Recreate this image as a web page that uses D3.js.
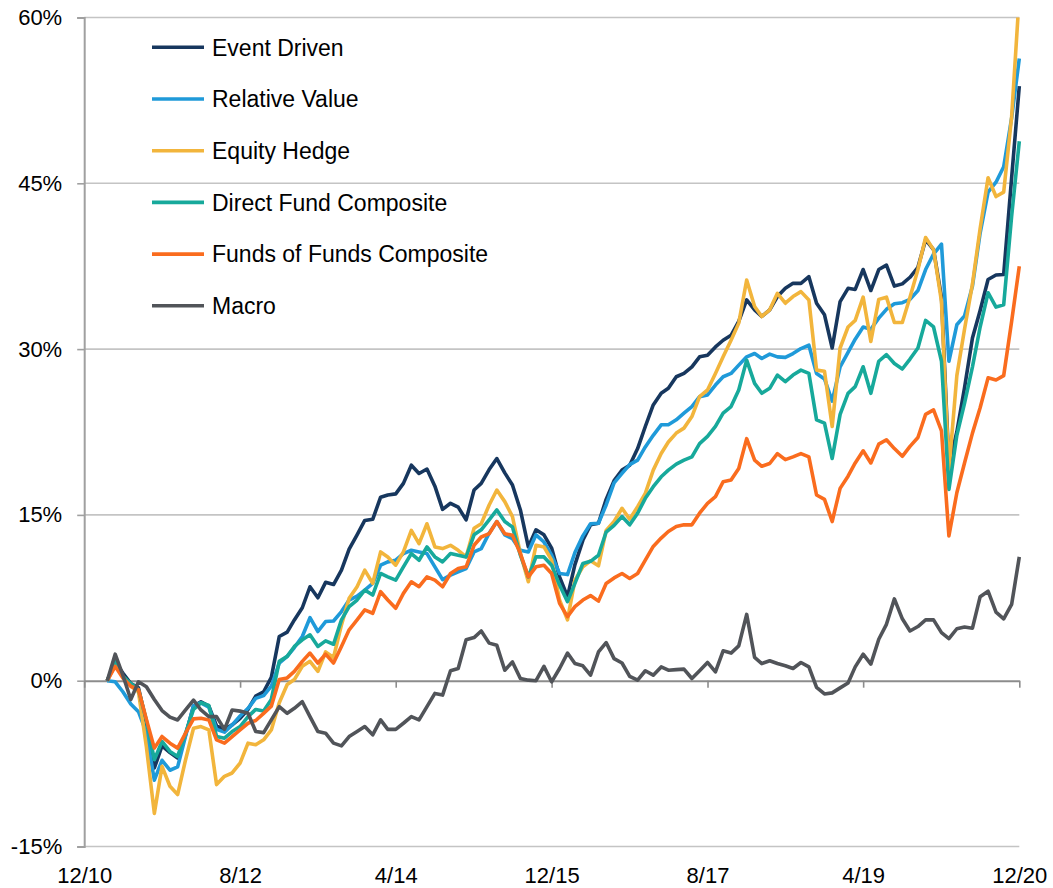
<!DOCTYPE html>
<html><head><meta charset="utf-8">
<script src="https://cdn.jsdelivr.net/npm/d3@7"></script>
<style>
html,body{margin:0;padding:0;background:#fff;}
svg text{font-family:"Liberation Sans",Arial,sans-serif;fill:#000;}
</style></head>
<body><svg id="c" width="1053" height="888"></svg>
<script>
// Monthly observations, 3/2011 .. 12/2020 (cumulative return, %)
const startMonth = new Date(2011, 2, 1);
const endMonth = new Date(2020, 11, 1);
const months = d3.timeMonth.range(startMonth, d3.timeMonth.offset(endMonth, 1));

const eventDriven = [
0,1.7,0.7,-0.25,-0.65,-3.8,-7.9,-5.9,-6.5,-7.0,
-4.9,-2.3,-1.9,-2.3,-4.1,-4.4,-4.0,-3.4,-2.6,-1.4,
-1.0,0.3,4.0,4.4,5.5,6.6,8.5,7.5,8.9,8.7,
10.0,11.9,13.2,14.5,14.6,16.6,16.8,16.9,17.85,19.5,
18.75,19.15,17.6,15.5,16.05,15.7,14.55,17.25,17.85,19.1,
20.1,18.8,17.7,15.45,12.1,13.65,13.2,12.0,9.4,7.6,
10.5,12.7,14.1,14.25,16.4,18.1,19.05,19.5,21.0,23.0,
24.95,26.0,26.45,27.5,27.8,28.4,29.3,29.45,30.2,30.8,
31.25,32.5,34.45,33.55,32.95,33.55,34.75,35.5,35.95,35.95,
36.55,34.15,33.1,30.1,34.3,35.5,35.4,37.2,35.3,37.2,
37.6,35.7,35.9,36.5,37.4,39.9,39.0,34.7,19.5,22.5,
26.5,31.0,33.5,36.3,36.7,36.75,45.5,53.8];

const relativeValue = [
0,-0.1,-1.0,-2.1,-2.8,-4.7,-9.0,-7.2,-8.1,-7.8,
-5.0,-2.25,-2.0,-2.4,-4.4,-4.65,-4.0,-3.2,-2.5,-1.6,
-1.35,-0.5,1.6,2.2,3.0,4.0,5.7,4.45,5.35,5.4,
6.25,7.3,7.65,8.2,8.8,10.45,10.75,10.9,11.5,11.8,
11.65,11.5,10.3,9.15,9.55,9.85,10.15,11.65,11.95,13.35,
14.4,13.2,12.85,11.8,11.65,13.2,12.55,11.35,9.7,9.6,
11.6,13.1,14.2,14.25,15.9,17.9,18.75,19.55,19.95,21.15,
22.2,23.15,23.15,23.6,24.2,24.8,25.7,25.85,26.75,27.5,
27.8,28.55,29.3,29.6,29.15,29.55,29.3,29.25,29.6,30.05,
30.35,27.8,27.3,25.3,28.4,29.7,30.9,32.0,31.8,32.8,
33.6,34.1,34.2,34.5,35.3,37.2,38.6,39.5,28.9,32.2,
33.0,35.7,40.5,44.2,45.1,46.5,50.9,56.3];

const equityHedge = [
0,1.45,0.4,-0.5,-1.0,-6.0,-12.0,-7.75,-9.55,-10.3,
-7.15,-4.3,-4.15,-4.45,-9.4,-8.65,-8.35,-7.45,-5.65,-5.8,
-5.35,-4.45,-2.0,-0.35,0.1,1.3,1.75,0.85,2.6,2.1,
5.05,7.45,8.5,10.0,8.8,11.65,11.2,10.45,11.65,13.6,
12.4,14.2,12.1,11.95,12.25,11.8,11.2,13.8,14.2,15.9,
17.25,16.2,14.85,11.5,8.95,12.25,12.1,10.9,7.3,5.5,
9.1,10.3,10.85,10.4,13.6,14.4,15.6,14.6,15.75,16.95,
19.05,20.55,21.6,22.4,22.85,23.9,25.7,26.3,27.8,29.3,
30.8,32.35,36.25,33.85,32.95,33.55,35.05,34.15,34.75,35.2,
34.45,28.1,28.0,23.0,30.1,32.0,32.6,34.7,30.7,34.5,
34.7,32.4,32.4,34.7,37.2,40.1,39.0,34.3,19.0,27.6,
31.8,35.9,40.9,45.5,43.8,44.2,51.0,62.0];

const directFund = [
0,1.75,0.4,-0.25,-0.8,-3.6,-7.15,-5.5,-6.4,-6.85,
-4.75,-2.6,-2.0,-2.25,-5.05,-5.2,-4.6,-4.15,-3.25,-2.6,
-2.75,-1.7,1.75,2.2,3.1,3.7,4.15,3.1,3.6,3.3,
5.5,6.7,7.3,8.2,7.75,9.7,9.4,9.1,10.3,11.5,
10.9,12.1,11.2,10.75,11.5,11.35,11.2,13.2,13.65,14.55,
15.45,14.4,13.9,11.35,9.4,11.2,11.2,10.45,8.65,7.15,
8.8,10.6,10.8,11.35,13.45,14.05,14.85,14.1,15.15,16.5,
17.55,18.45,19.05,19.6,19.95,20.25,21.45,22.1,23.0,24.2,
24.8,26.3,29.0,26.9,26.0,26.45,27.65,27.05,27.65,28.1,
27.8,23.6,23.3,20.1,24.1,26.0,26.6,28.4,26.0,28.9,
29.5,28.7,28.2,29.1,30.1,32.6,32.0,28.9,17.3,22.2,
25.1,28.4,32.0,35.1,33.8,34.0,42.0,48.8];

const fundsOfFunds = [
0,1.3,0.25,-0.5,-0.8,-3.5,-6.1,-5.05,-5.65,-6.1,
-4.75,-3.45,-3.4,-3.55,-5.35,-5.65,-5.05,-4.45,-3.85,-3.6,
-2.95,-2.3,0.1,0.25,0.85,1.75,2.5,1.6,2.4,1.6,
3.1,4.6,5.5,6.4,6.1,8.05,7.3,6.55,7.9,8.95,
8.5,9.4,9.1,8.5,9.7,10.15,10.3,12.25,13.0,13.3,
14.4,13.3,13.15,11.5,9.4,10.3,10.45,9.7,7.0,5.8,
6.7,7.3,7.7,7.2,8.8,9.3,9.7,9.25,9.7,10.9,
12.15,12.9,13.5,13.95,14.1,14.1,15.15,16.05,16.65,18.0,
18.15,19.2,21.9,19.95,19.4,19.65,20.55,20.0,20.25,20.55,
20.25,16.8,16.4,14.4,17.4,18.5,19.7,20.8,19.7,21.4,
21.8,21.0,20.3,21.2,22.0,24.1,24.5,22.6,13.1,17.0,
19.7,22.4,24.7,27.4,27.2,27.6,32.5,37.5];

const macro = [
0,2.4,0.5,-1.7,-0.1,-0.55,-1.7,-2.7,-3.3,-3.55,
-2.65,-1.75,-2.65,-3.25,-3.25,-4.4,-2.65,-2.75,-2.95,-4.6,
-4.7,-3.55,-2.35,-2.95,-2.5,-1.9,-3.25,-4.6,-4.75,-5.65,
-5.9,-5.05,-4.6,-4.15,-4.9,-3.55,-4.4,-4.4,-3.85,-3.25,
-3.55,-2.35,-1.15,-1.3,0.9,1.1,3.7,3.9,4.5,3.4,
3.2,0.95,1.7,0.2,0.05,0,1.3,-0.1,1.1,2.5,
1.55,1.35,0.5,2.6,3.45,2.0,1.6,0.4,0.05,0.9,
0.5,1.25,0.95,1.0,1.05,0.2,0.9,1.65,0.8,2.7,
2.5,3.15,6.0,2.1,1.55,1.8,1.55,1.35,1.1,1.65,
1.25,-0.6,-1.2,-1.1,-0.65,-0.2,1.25,2.4,1.5,3.75,
5.1,7.4,5.6,4.5,4.9,5.5,5.5,4.35,3.8,4.7,
4.85,4.75,7.6,8.1,6.2,5.6,6.9,11.2];

const seriesNames = ["Event Driven","Relative Value","Equity Hedge","Direct Fund Composite","Funds of Funds Composite","Macro"];
const seriesValues = [eventDriven, relativeValue, equityHedge, directFund, fundsOfFunds, macro];
const seriesColors = ["#17375e","#1f9ad9","#f2b53c","#17a99b","#fa6c1e","#515459"];

const yTicks = [-15, 0, 15, 30, 45, 60];
const xTickDates = [new Date(2010,11,1), new Date(2012,7,1), new Date(2014,3,1), new Date(2015,11,1), new Date(2017,7,1), new Date(2019,3,1), new Date(2020,11,1)];
const xTickLabels = ["12/10","8/12","4/14","12/15","8/17","4/19","12/20"];

const svg = d3.select("#c");
const L = 84.2, R = 1019.3, T = 17.5, B = 846.5;
const x = d3.scaleTime().domain([xTickDates[0], xTickDates[xTickDates.length-1]]).range([L, R]);
const y = d3.scaleLinear().domain([-15, 60]).range([B, T]);

// gridlines
svg.append("g").selectAll("line").data(yTicks.filter(d => d !== 0)).join("line")
  .attr("x1", L).attr("x2", R).attr("y1", d => y(d)).attr("y2", d => y(d))
  .attr("stroke", "#c4c4c4").attr("stroke-width", 1.6);

// y axis
const yAxis = svg.append("g").attr("transform", `translate(${L},0)`)
  .call(d3.axisLeft(y).tickValues(yTicks).tickSize(7).tickPadding(15).tickFormat(d => d + "%"));
yAxis.select(".domain").attr("stroke", "#a0a0a0").attr("stroke-width", 2);
yAxis.selectAll(".tick line").attr("stroke", "#a0a0a0").attr("stroke-width", 1.6);
yAxis.selectAll("text").attr("font-size", 22).attr("font-family", "Liberation Sans, Arial, sans-serif").attr("fill", "#000");

// x axis at 0%
const xAxis = svg.append("g").attr("transform", `translate(0,${y(0)})`)
  .call(d3.axisBottom(x).tickValues(xTickDates).tickSize(7).tickSizeOuter(0).tickFormat((d, i) => xTickLabels[i]));
xAxis.select(".domain").attr("stroke", "#8c8c8c").attr("stroke-width", 2);
xAxis.selectAll(".tick line").attr("stroke", "#8c8c8c").attr("stroke-width", 1.6);
xAxis.selectAll("text").attr("font-size", 22).attr("font-family", "Liberation Sans, Arial, sans-serif").attr("fill", "#000")
  .attr("dy", 0).attr("y", B + 37 - y(0));

// clip
svg.append("clipPath").attr("id", "plot").append("rect")
  .attr("x", L - 2).attr("y", T).attr("width", R - L + 6).attr("height", B - T);

const line = d3.line().x((d, i) => x(months[i])).y(d => y(d));
const lines = svg.append("g").attr("clip-path", "url(#plot)");
seriesValues.forEach((vals, k) => {
  lines.append("path").datum(vals).attr("d", line)
    .attr("fill", "none").attr("stroke", seriesColors[k]).attr("stroke-width", 3.6)
    .attr("stroke-linejoin", "round");
});

// legend
const lg = svg.append("g");
seriesNames.forEach((name, k) => {
  const ly = 47.3 + k * 51.7;
  lg.append("line").attr("x1", 152).attr("x2", 204).attr("y1", ly).attr("y2", ly)
    .attr("stroke", seriesColors[k]).attr("stroke-width", 3.6);
  lg.append("text").attr("x", 212).attr("y", ly + 8.3).attr("font-size", 23).text(name);
});
</script></body></html>
